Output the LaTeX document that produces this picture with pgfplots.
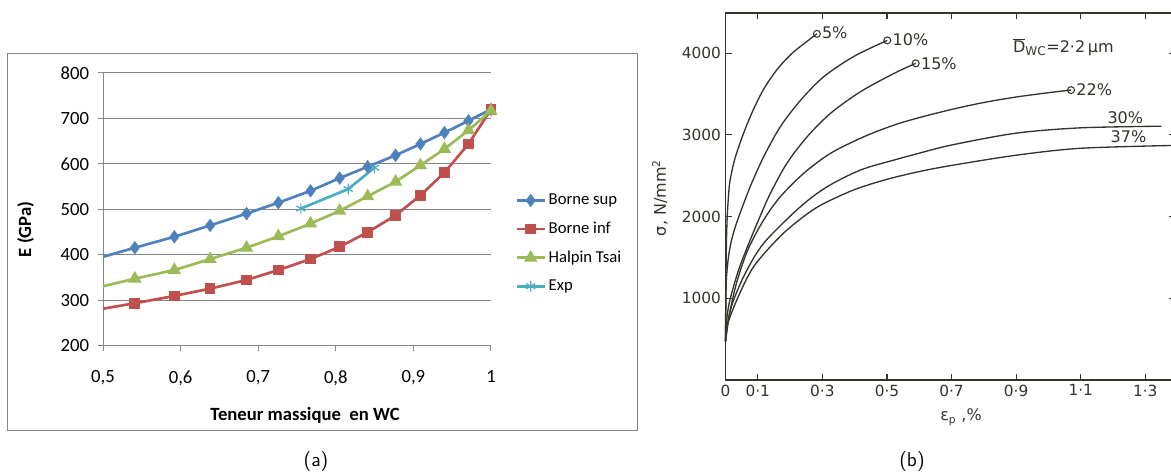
\documentclass[border=0pt]{standalone}
\usepackage{pgfplots}
\pgfplotsset{compat=1.18}
\usepackage{pgfplotstable}
\usepackage{fontspec}
\setmainfont{Carlito}
\newfontfamily\dejavu{DejaVu Sans}
\definecolor{bsup}{HTML}{4F81BD}
\definecolor{binf}{HTML}{C0504D}
\definecolor{htc}{HTML}{9BBB59}
\definecolor{expc}{HTML}{4BACC6}
\definecolor{axgray}{HTML}{868686}
\definecolor{ink}{HTML}{34342C}

\pgfplotstableread{
x      sup  inf  ht
0.490  391  279  327
0.541  416  294  348
0.592  440  310  367
0.638  465  326  391
0.685  491  345  416
0.726  515  367  441
0.7675 541  391  469
0.805  569  418  497
0.841  594  450  529
0.877  619  487  561
0.909  644  531  597
0.940  669  581  633
0.971  695  644  674
1.000  720  720  717
}\tabA

\pgfplotstableread{
x     y
0.755 502
0.816 545
0.850 592
}\tabExp

\begin{document}
\begin{tikzpicture}
\useasboundingbox (0,0) rectangle (878.25pt,355.5pt);
\clip (0,0) rectangle (878.25pt,355.5pt);
\begin{scope}[x=0.75pt,y=0.75pt]
\fill[white] (0,0) rectangle (1171,474);
\draw[axgray, line width=0.75pt] (7,420) rectangle (637,43);
\end{scope}

% ---------------- panel (a)
\begin{axis}[
  at={(77.25pt,96pt)}, anchor=south west, scale only axis,
  width=291pt, height=204.75pt,
  xmin=0.5, xmax=1, ymin=200, ymax=800,
  axis x line=bottom, axis y line=left,
  axis line style={-, draw=axgray, line width=0.75pt},
  xtick={0.5,0.6,0.7,0.8,0.9,1},
  xticklabels={{0,5},{0,6},{0,7},{0,8},{0,9},1},
  ytick={200,300,400,500,600,700,800},
  yticklabels={200,300,400,500,600,700,800},
  tick align=outside, major tick length=4pt,
  tick style={draw=axgray, line width=0.75pt},
  ymajorgrids, grid style={draw=axgray, line width=0.75pt},
  ticklabel style={font=\fontsize{14}{16}\selectfont},
  xticklabel style={yshift=-11pt},
  yticklabel style={xshift=-3pt},
  legend style={at={(1.062,0.567)}, anchor=north west, draw=none, fill=none,
    font=\fontsize{12.5}{14}\selectfont, row sep=7.5pt, inner sep=0pt},
  legend cell align=left,
  legend image code/.code={\draw[#1, mark indices={2}] plot coordinates {(0cm,0cm) (0.37cm,0cm) (0.74cm,0cm)};},
]
\addplot[bsup, line width=2pt, mark=diamond*, mark size=3.4pt, mark indices={1,...,13}, mark options={solid, fill=bsup}] table[x=x,y=sup] {\tabA};
\addlegendentry{Borne sup}
\addplot[binf, line width=2pt, mark=square*, mark size=3pt, mark indices={1,...,13}, mark options={solid, fill=binf}] table[x=x,y=inf] {\tabA};
\addlegendentry{Borne inf}
\addplot[htc, line width=2pt, mark=triangle*, mark size=3.8pt, mark indices={1,...,13}, mark options={solid, fill=htc}] table[x=x,y=ht] {\tabA};
\addlegendentry{Halpin Tsai}
\addplot[expc, line width=2pt, mark=asterisk, mark size=4pt, mark options={solid, line width=0.9pt}] table[x=x,y=y] {\tabExp};
\addlegendentry{Exp}
\end{axis}

% ---------------- panel (b)
\begin{axis}[
  at={(544.125pt,70.5pt)}, anchor=south west, scale only axis,
  width=337.125pt, height=275.25pt,
  xmin=0, xmax=1.392, ymin=0, ymax=4490,
  xtick={0,0.1,0.3,0.5,0.7,0.9,1.1,1.3},
  xticklabels={0,0·1,0·3,0·5,0·7,0·9,1·1,1·3},
  ytick={1000,2000,3000,4000},
  yticklabels={1000,2000,3000,4000},
  tick align=inside, major tick length=4.5pt,
  axis line style={draw=ink, line width=0.8pt},
  tick style={draw=ink, line width=0.8pt},
  ticklabel style={font=\dejavu\fontsize{11.5}{13}\selectfont, text=ink},
  clip=false,
  curve/.style={ink, line width=1pt, smooth, no marks},
]
% 5%
\addplot[curve] coordinates {(0,470) (0.001,1100) (0.003,1700) (0.006,2050) (0.012,2380) (0.02,2560) (0.03,2720) (0.045,2900) (0.065,3110) (0.09,3340) (0.12,3570) (0.16,3800) (0.21,4010) (0.283,4235)};
% 10%
\addplot[curve] coordinates {(0,470) (0.002,1150) (0.005,1350) (0.01,1530) (0.018,1700) (0.03,1870) (0.046,2050) (0.077,2370) (0.118,2730) (0.170,3100) (0.232,3420) (0.304,3710) (0.398,3960) (0.501,4155)};
% 15%
\addplot[curve] coordinates {(0,470) (0.005,780) (0.015,1000) (0.04,1340) (0.07,1650) (0.108,2010) (0.139,2284) (0.190,2651) (0.253,2977) (0.325,3262) (0.418,3527) (0.522,3751) (0.589,3874)};
% 22%
\addplot[curve] coordinates {(0,470) (0.012,800) (0.035,1200) (0.07,1600) (0.118,1957) (0.170,2243) (0.242,2528) (0.325,2773) (0.429,2977) (0.522,3119) (0.6,3210) (0.7,3310) (0.8,3395) (0.9,3462) (1.0,3515) (1.07,3547)};
% 30%
\addplot[curve] coordinates {(0,470) (0.015,856) (0.056,1264) (0.118,1672) (0.232,2120) (0.315,2365) (0.418,2569) (0.522,2691) (0.6,2775) (0.7,2875) (0.9,3020) (1.1,3085) (1.35,3105)};
% 37%
\addplot[curve] coordinates {(0,470) (0.004,652) (0.035,979) (0.087,1386) (0.170,1760) (0.242,2000) (0.3,2150) (0.4,2330) (0.5,2455) (0.6,2550) (0.7,2625) (0.9,2750) (1.1,2835) (1.39,2870)};
% end circles
\addplot[only marks, mark=o, mark size=2.6pt, mark options={ink, line width=0.8pt, fill=white}] coordinates {(0.283,4235) (0.501,4155) (0.589,3874) (1.07,3547)};
\begin{scope}[font=\dejavu\fontsize{12}{14}\selectfont, text=ink]
\node[anchor=west, inner sep=0pt] at (axis cs:0.298,4245) {5\%};
\node[anchor=west, inner sep=0pt] at (axis cs:0.517,4160) {10\%};
\node[anchor=west, inner sep=0pt] at (axis cs:0.605,3870) {15\%};
\node[anchor=west, inner sep=0pt] at (axis cs:1.086,3550) {22\%};
\node[inner sep=0pt] at (axis cs:1.238,3215) {30\%};
\node[inner sep=0pt] at (axis cs:1.248,2975) {37\%};
\node[anchor=west, inner sep=0pt] at (axis cs:0.89,4075) {$\overline{\mbox{D}}_{\mbox{\fontsize{9}{10}\selectfont WC}}$=2·2\,µm};
\end{scope}
\end{axis}

\begin{scope}[x=0.75pt,y=0.75pt]
\node[rotate=90, font=\bfseries\fontsize{14}{16}\selectfont] at (25.5,244.5) {E (GPa)};
\node[font=\bfseries\fontsize{14}{16}\selectfont] at (305,59) {Teneur massique~ en WC};
\node[font=\sffamily\fontsize{15}{17}\selectfont] at (316,12) {(a)};
\node[font=\sffamily\fontsize{15}{17}\selectfont] at (912,12) {(b)};
\node[rotate=90, font=\dejavu\fontsize{12}{14}\selectfont, text=ink] at (660,276) {σ, N/mm\textsuperscript{2}};
\node[font=\dejavu\fontsize{12}{14}\selectfont, text=ink] at (961,57) {ε\textsubscript{p} ,\%};
\end{scope}
\end{tikzpicture}
\end{document}
